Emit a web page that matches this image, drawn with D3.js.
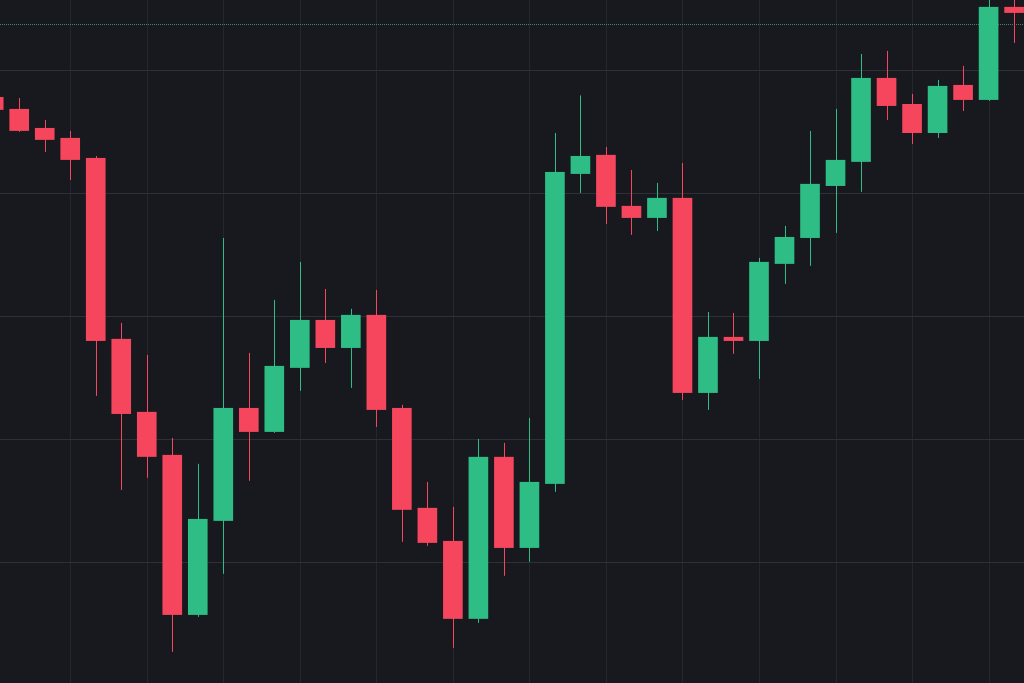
<!DOCTYPE html>
<html>
<head>
<meta charset="utf-8">
<script src="https://cdn.jsdelivr.net/npm/d3@7"></script>
<style>
  html, body { margin: 0; padding: 0; background: #17191e; overflow: hidden; }
  svg { display: block; }
</style>
</head>
<body>
<svg id="chart" width="1024" height="683"></svg>
<script>
// Candle index (categories)
const candles = d3.range(41);
const opens  = [147.80,146.83,145.28,144.47,142.84,128.12,122.18,118.68,105.66,113.31,122.50,120.55,125.76,129.66,127.38,130.07,122.50,114.37,111.68,105.34,118.52,111.11,116.32,141.54,143.09,138.94,137.96,139.59,123.72,128.28,127.95,134.22,136.33,140.56,142.52,149.35,147.23,144.87,148.78,147.56,155.13];
const highs  = [147.97,147.72,145.93,145.04,143.00,129.42,126.82,120.06,117.95,136.33,126.98,131.29,134.38,132.18,130.56,132.10,122.75,116.48,114.45,119.98,119.66,121.69,144.87,147.93,143.74,141.86,140.81,142.43,130.31,130.23,134.71,137.31,145.04,146.83,151.30,151.55,148.05,149.19,150.33,156.02,156.02];
const lows   = [146.58,144.96,143.33,141.05,123.48,115.83,116.81,102.65,105.50,109.00,116.57,120.47,123.89,126.16,124.13,120.96,111.60,111.28,102.98,105.01,108.84,109.98,115.67,139.99,137.47,136.58,136.90,123.15,122.34,126.90,124.86,132.59,134.06,136.74,140.08,145.93,143.98,144.47,146.66,147.48,152.20];
const closes = [146.75,145.04,144.31,142.68,127.95,122.01,118.52,105.66,113.47,122.50,120.55,125.92,129.66,127.38,130.07,122.34,114.21,111.52,105.34,118.52,111.11,116.48,141.70,143.00,138.86,137.96,139.59,123.72,128.28,127.95,134.38,136.41,140.73,142.68,149.35,147.07,144.87,148.70,147.56,155.13,154.64];
const gridPrices = [110, 120, 130, 140, 150];
const gridCandles = [3, 6, 9, 12, 15, 18, 21, 24, 27, 30, 33, 36, 39];
const lastPrice = 153.74;

const W = 1024, H = 683;
const svg = d3.select("#chart");
const x = d3.scaleLinear().domain([0, 40]).range([-6.3, 1014.1]);
const y = d3.scaleLinear().domain([100.12, 155.69]).range([H, 0]);
const step = x(1) - x(0);
const bodyW = step * 0.77;

const UP = "#2ebd85", DOWN = "#f6465d";

svg.append("rect").attr("width", W).attr("height", H).attr("fill", "#17191e");

// vertical grid
svg.append("g").selectAll("line").data(gridCandles).join("line")
  .attr("x1", d => Math.round(x(d)) + 0.5).attr("x2", d => Math.round(x(d)) + 0.5)
  .attr("y1", 0).attr("y2", H)
  .attr("stroke", "#24272d").attr("stroke-width", 1)
  .attr("shape-rendering", "crispEdges");

// horizontal grid
svg.append("g").selectAll("line").data(gridPrices).join("line")
  .attr("x1", 0).attr("x2", W)
  .attr("y1", d => Math.round(y(d)) + 0.5).attr("y2", d => Math.round(y(d)) + 0.5)
  .attr("stroke", "#2d3037").attr("stroke-width", 1.5)
  .attr("shape-rendering", "crispEdges");

// last price dotted line
svg.append("line")
  .attr("x1", 0).attr("x2", W)
  .attr("y1", Math.round(y(lastPrice)) + 0.5).attr("y2", Math.round(y(lastPrice)) + 0.5)
  .attr("stroke", "#3a8577").attr("stroke-width", 1)
  .attr("stroke-dasharray", "1,1")
  .attr("shape-rendering", "crispEdges");

const data = candles.map(i => ({i, o: opens[i], h: highs[i], l: lows[i], c: closes[i]}));
const col = d => d.c >= d.o ? UP : DOWN;

const g = svg.append("g");
// wicks
g.selectAll("line.wick").data(data).join("line")
  .attr("class", "wick")
  .attr("x1", d => Math.round(x(d.i)) + 0.5).attr("x2", d => Math.round(x(d.i)) + 0.5)
  .attr("y1", d => y(d.h)).attr("y2", d => y(d.l))
  .attr("stroke", col).attr("stroke-width", 1);
// bodies
g.selectAll("rect.body").data(data).join("rect")
  .attr("class", "body")
  .attr("x", d => x(d.i) - bodyW / 2)
  .attr("width", bodyW)
  .attr("y", d => y(Math.max(d.o, d.c)))
  .attr("height", d => Math.max(2, Math.abs(y(d.o) - y(d.c))))
  .attr("fill", col);
</script>
</body>
</html>
